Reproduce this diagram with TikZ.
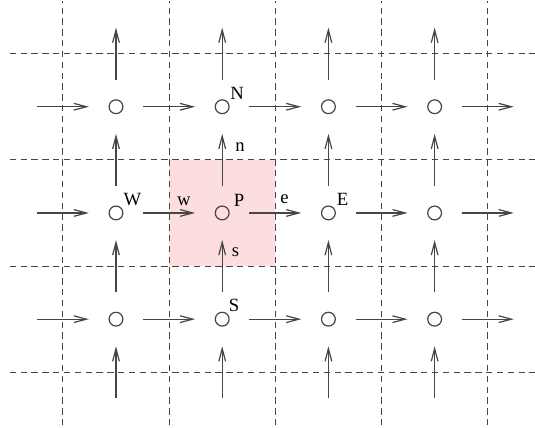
\documentclass[tikz,border=0pt]{standalone}
\usepackage{fontspec}
\setmainfont{Liberation Serif}
\usetikzlibrary{arrows.meta}

\definecolor{cvpink}{RGB}{253,222,222}
\definecolor{linegray}{RGB}{70,70,70}

\tikzset{
  gridline/.style={linegray, line width=0.55pt, dash pattern=on 3.4pt off 2.4pt},
  flux/.style={linegray, line width=0.65pt, -{Straight Barb[length=6.8pt,width=3.6pt]}},
  gridpoint/.style={circle, draw=linegray, line width=0.65pt, minimum size=0.26cm, inner sep=0pt},
  lab/.style={inner sep=0pt, font=\fontsize{10}{12}\selectfont}
}

\begin{document}
\begin{tikzpicture}[scale=2]
\useasboundingbox (-0.092,-0.023) rectangle (4.945,4.005);

% ===== Volume de controle autour de P =====
\fill[cvpink] (1.5,1.5) rectangle (2.5,2.5);

% ===== Maillage (faces) =====
\foreach \x in {0.5,1.5,2.5,3.5,4.5}
  \draw[gridline] (\x,0) -- (\x,4);
\foreach \y in {0.5,1.5,2.5,3.5}
  \draw[gridline] (0,\y) -- (4.945,\y);

% ===== Noeuds =====
\foreach \i in {1,...,4}
  \foreach \j in {1,2,3}
    \node[gridpoint] (p\i\j) at (\i,\j) {};

% ===== Flux aux faces =====
\foreach \x in {0.5,1.5,2.5,3.5,4.5}
  \foreach \y in {1,2,3}
    \draw[flux] (\x-0.245,\y) -- (\x+0.245,\y);
\foreach \x in {1,...,4}
  \foreach \y in {0.5,1.5,2.5,3.5}
    \draw[flux] (\x,\y-0.245) -- (\x,\y+0.245);

% Labels noeuds
\node[lab] (labN) at (2.140,3.127) {N};
\node[lab] (labW) at (1.155,2.122) {W};
\node[lab] (labP) at (2.158,2.117) {P};
\node[lab] (labE) at (3.133,2.127) {E};
\node[lab] (labS) at (2.111,1.131) {S};

% Labels faces
\node[lab] (labn) at (2.168,2.620) {n};
\node[lab] (labw) at (1.640,2.108) {w};
\node[lab] (labe) at (2.587,2.127) {e};
\node[lab] (labs) at (2.125,1.634) {s};

\end{tikzpicture}
\end{document}
